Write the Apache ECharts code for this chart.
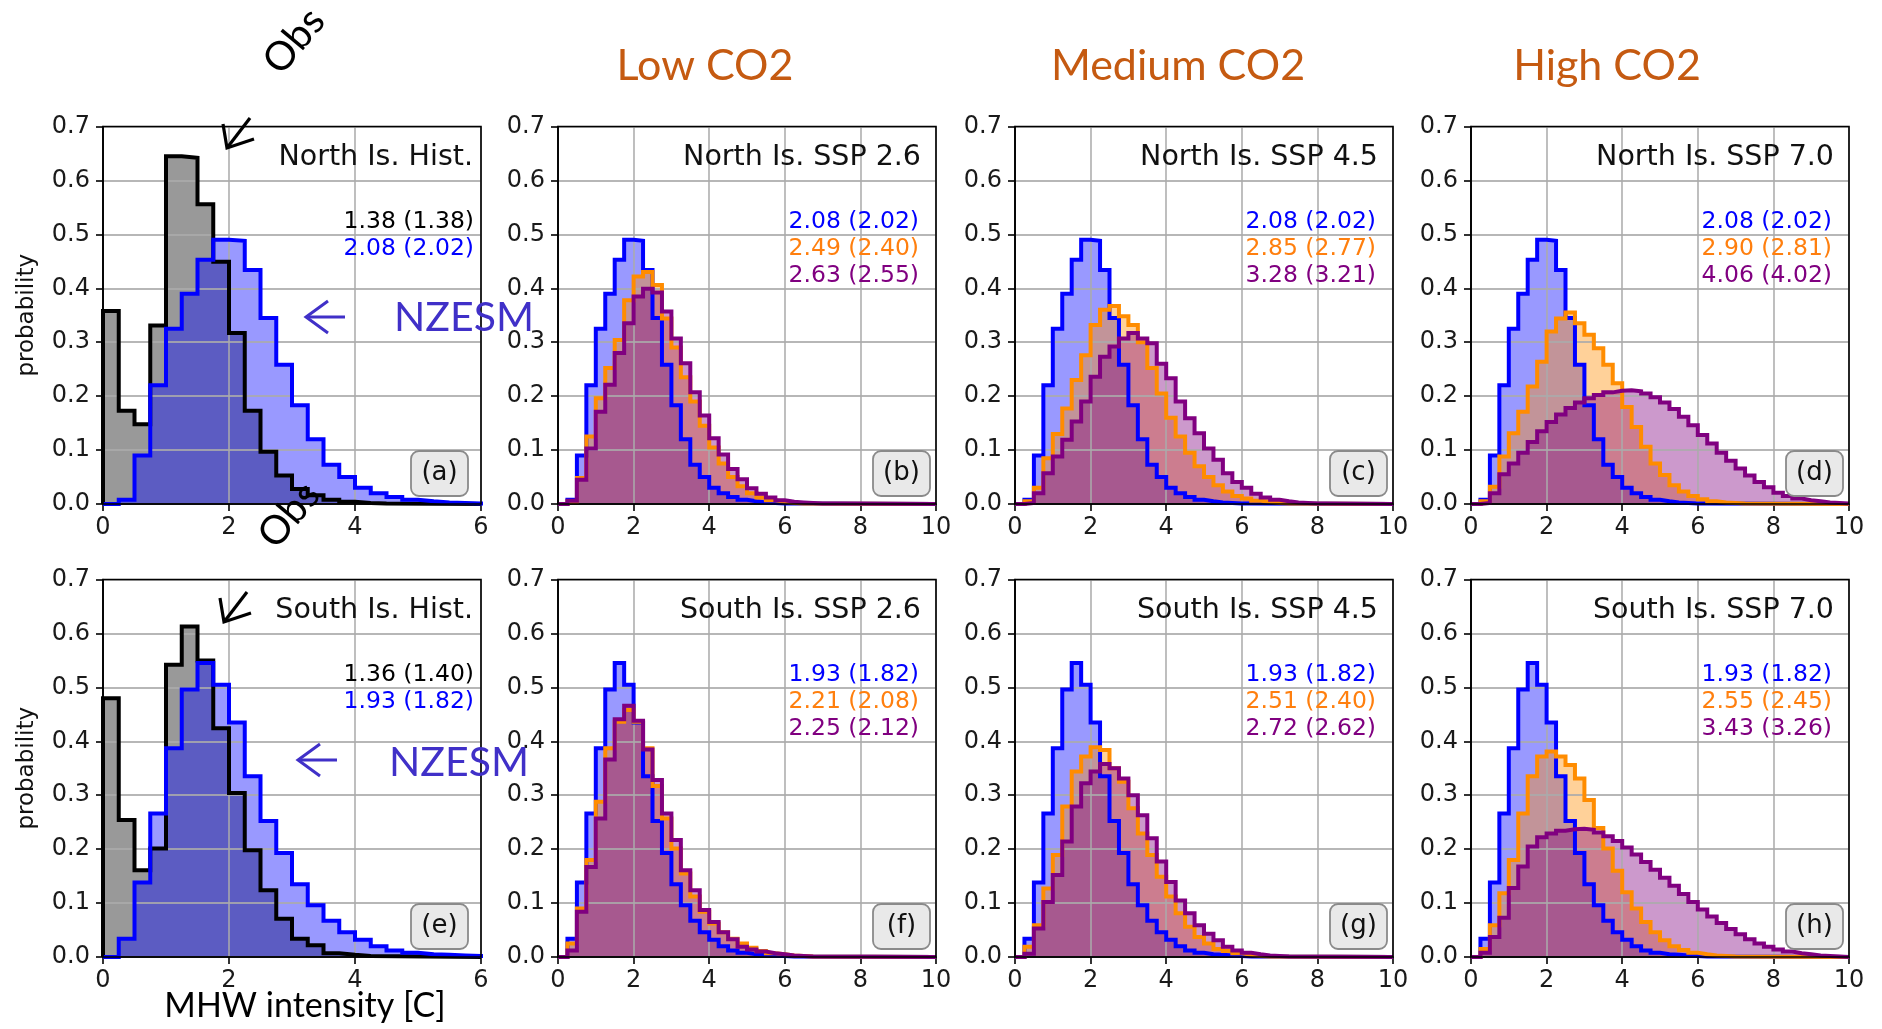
<!DOCTYPE html>
<html><head><meta charset="utf-8">
<script src="https://cdn.jsdelivr.net/npm/echarts@6/dist/echarts.min.js"></script>
<style>html,body{margin:0;padding:0;background:#fff}#chart{width:1882px;height:1029px}</style>
</head><body><div id="chart"></div>
<script>
// ---------------- DATA (probability per 0.25 C bin, starting at 0) ----------------
const binWidth = 0.25;
const northObs = [0.358, 0.173, 0.148, 0.331, 0.645, 0.642, 0.556, 0.449, 0.317, 0.173, 0.097, 0.053, 0.028, 0.016, 0.008, 0.004, 0.002, 0.001];
const northHist = [0.0, 0.008, 0.09, 0.22, 0.325, 0.39, 0.453, 0.49, 0.488, 0.434, 0.345, 0.258, 0.183, 0.12, 0.073, 0.05, 0.03, 0.02, 0.013, 0.008, 0.005, 0.003, 0.002, 0.001, 0.001];
const northSsp26Orange = [0.0, 0.004, 0.048, 0.125, 0.196, 0.252, 0.304, 0.378, 0.422, 0.43, 0.406, 0.344, 0.29, 0.235, 0.19, 0.145, 0.105, 0.075, 0.05, 0.033, 0.02, 0.012, 0.007, 0.004, 0.002, 0.001];
const northSsp26Purple = [0.0, 0.006, 0.045, 0.103, 0.171, 0.221, 0.28, 0.335, 0.385, 0.399, 0.392, 0.357, 0.307, 0.261, 0.207, 0.164, 0.122, 0.092, 0.065, 0.046, 0.029, 0.019, 0.012, 0.007, 0.004, 0.003, 0.002, 0.001, 0.001, 0.001];
const northSsp45Orange = [0.0, 0.005, 0.03, 0.085, 0.13, 0.177, 0.23, 0.276, 0.332, 0.36, 0.367, 0.348, 0.332, 0.3, 0.252, 0.205, 0.16, 0.125, 0.095, 0.07, 0.05, 0.035, 0.023, 0.015, 0.01, 0.006, 0.004, 0.002, 0.001];
const northSsp45Purple = [0.0, 0.002, 0.02, 0.057, 0.088, 0.119, 0.153, 0.19, 0.236, 0.273, 0.292, 0.307, 0.317, 0.307, 0.298, 0.26, 0.233, 0.19, 0.159, 0.131, 0.103, 0.082, 0.057, 0.041, 0.03, 0.019, 0.012, 0.008, 0.005, 0.003, 0.002, 0.001, 0.001];
const northSsp70Orange = [0.0, 0.005, 0.032, 0.088, 0.131, 0.171, 0.218, 0.264, 0.32, 0.344, 0.355, 0.335, 0.314, 0.289, 0.258, 0.224, 0.18, 0.143, 0.106, 0.075, 0.054, 0.035, 0.023, 0.015, 0.009, 0.005, 0.003, 0.002, 0.001];
const northSsp70Purple = [0.0, 0.002, 0.02, 0.055, 0.075, 0.095, 0.115, 0.135, 0.152, 0.166, 0.178, 0.188, 0.196, 0.202, 0.207, 0.21, 0.211, 0.209, 0.205, 0.198, 0.188, 0.176, 0.162, 0.146, 0.128, 0.112, 0.095, 0.08, 0.066, 0.053, 0.041, 0.031, 0.021, 0.015, 0.01, 0.007, 0.005, 0.003, 0.002, 0.001];
const southObs = [0.48, 0.254, 0.161, 0.201, 0.542, 0.613, 0.55, 0.424, 0.304, 0.198, 0.124, 0.071, 0.034, 0.022, 0.007, 0.004, 0.002];
const southHist = [0.0, 0.034, 0.138, 0.266, 0.387, 0.496, 0.545, 0.505, 0.435, 0.335, 0.252, 0.193, 0.135, 0.096, 0.067, 0.046, 0.032, 0.02, 0.012, 0.008, 0.005, 0.004, 0.003, 0.002, 0.001];
const southSsp26Orange = [0.0, 0.025, 0.09, 0.18, 0.288, 0.387, 0.436, 0.458, 0.436, 0.387, 0.317, 0.257, 0.201, 0.155, 0.112, 0.084, 0.062, 0.046, 0.034, 0.025, 0.017, 0.011, 0.007, 0.005, 0.003, 0.002, 0.001];
const southSsp26Purple = [0.0, 0.012, 0.084, 0.167, 0.257, 0.366, 0.441, 0.466, 0.438, 0.385, 0.328, 0.266, 0.217, 0.161, 0.124, 0.087, 0.065, 0.046, 0.033, 0.019, 0.014, 0.01, 0.007, 0.005, 0.003, 0.002, 0.001];
const southSsp45Orange = [0.0, 0.019, 0.059, 0.127, 0.189, 0.279, 0.344, 0.372, 0.389, 0.384, 0.35, 0.325, 0.276, 0.229, 0.189, 0.149, 0.112, 0.081, 0.056, 0.037, 0.025, 0.015, 0.011, 0.007, 0.004, 0.002, 0.001];
const southSsp45Purple = [0.0, 0.006, 0.053, 0.102, 0.152, 0.214, 0.279, 0.322, 0.344, 0.358, 0.35, 0.331, 0.3, 0.263, 0.22, 0.177, 0.139, 0.105, 0.081, 0.059, 0.043, 0.031, 0.019, 0.012, 0.008, 0.005, 0.003, 0.002, 0.001];
const southSsp70Orange = [0.0, 0.015, 0.059, 0.118, 0.18, 0.266, 0.335, 0.372, 0.381, 0.372, 0.356, 0.331, 0.291, 0.239, 0.201, 0.16, 0.12, 0.09, 0.065, 0.046, 0.031, 0.02, 0.013, 0.008, 0.005, 0.003, 0.002, 0.001];
const southSsp70Purple = [0.0, 0.008, 0.037, 0.073, 0.128, 0.168, 0.205, 0.222, 0.229, 0.234, 0.237, 0.238, 0.236, 0.231, 0.224, 0.215, 0.203, 0.19, 0.176, 0.162, 0.147, 0.132, 0.117, 0.102, 0.088, 0.075, 0.063, 0.052, 0.042, 0.033, 0.025, 0.019, 0.014, 0.01, 0.007, 0.005, 0.003, 0.002, 0.001];

const panelTitles = ['North Is. Hist.', 'North Is. SSP 2.6', 'North Is. SSP 4.5', 'North Is. SSP 7.0',
                     'South Is. Hist.', 'South Is. SSP 2.6', 'South Is. SSP 4.5', 'South Is. SSP 7.0'];
const panelLetters = ['(a)', '(b)', '(c)', '(d)', '(e)', '(f)', '(g)', '(h)'];
const panelStats = [
  ['1.38 (1.38)', '2.08 (2.02)'],
  ['2.08 (2.02)', '2.49 (2.40)', '2.63 (2.55)'],
  ['2.08 (2.02)', '2.85 (2.77)', '3.28 (3.21)'],
  ['2.08 (2.02)', '2.90 (2.81)', '4.06 (4.02)'],
  ['1.36 (1.40)', '1.93 (1.82)'],
  ['1.93 (1.82)', '2.21 (2.08)', '2.25 (2.12)'],
  ['1.93 (1.82)', '2.51 (2.40)', '2.72 (2.62)'],
  ['1.93 (1.82)', '2.55 (2.45)', '3.43 (3.26)']
];
const columnTitles = ['Low CO2', 'Medium CO2', 'High CO2'];
const xAxisMax = [6, 10, 10, 10];
const yAxisMax = 0.7;
const xLabel = 'MHW intensity [C]';
const yLabel = 'probability';

// ---------------- STYLE / LAYOUT ----------------
const STY = {
  obs:    { edge: '#000000', fill: 'rgba(128,128,128,0.8)', text: '#000000' },
  hist:   { edge: '#0000ff', fill: 'rgba(0,0,255,0.4)',     text: '#0000ff' },
  orange: { edge: '#ff8c00', fill: 'rgba(255,140,0,0.4)',   text: '#ff7f0e' },
  purple: { edge: '#800080', fill: 'rgba(128,0,128,0.4)',   text: '#800080' }
};
const panelSeries = [
  [['obs', northObs], ['hist', northHist]],
  [['hist', northHist], ['orange', northSsp26Orange], ['purple', northSsp26Purple]],
  [['hist', northHist], ['orange', northSsp45Orange], ['purple', northSsp45Purple]],
  [['hist', northHist], ['orange', northSsp70Orange], ['purple', northSsp70Purple]],
  [['obs', southObs], ['hist', southHist]],
  [['hist', southHist], ['orange', southSsp26Orange], ['purple', southSsp26Purple]],
  [['hist', southHist], ['orange', southSsp45Orange], ['purple', southSsp45Purple]],
  [['hist', southHist], ['orange', southSsp70Orange], ['purple', southSsp70Purple]]
];
const COL_LEFT = [103, 558, 1015, 1471];
const COL_W = 378;
const ROW_TOP = [126.5, 579.5];
const ROW_H = 377.5;
const ROW_SHIFT = ROW_TOP[1] - ROW_TOP[0];
const DJ = '"DejaVu Sans"';
const LATO = 'Lato';

function stepPoints(values, xMax) {
  const pts = [[0, 0]];
  values.forEach((v, k) => { pts.push([k * binWidth, v]); pts.push([(k + 1) * binWidth, v]); });
  const end = values.length * binWidth;
  pts.push([end, 0]);
  if (end < xMax) pts.push([xMax, 0]);
  return pts;
}

const grids = [], xAxes = [], yAxes = [], series = [], graphic = [];
for (let p = 0; p < 8; p++) {
  const row = Math.floor(p / 4), col = p % 4;
  const left = COL_LEFT[col], top = ROW_TOP[row];
  const xMax = xAxisMax[col];
  grids.push({ left: left, top: top, width: COL_W, height: ROW_H, show: true, borderColor: '#000', borderWidth: 1.6, backgroundColor: 'transparent', z: 5 });
  xAxes.push({
    type: 'value', gridIndex: p, min: 0, max: xMax, interval: 2, z: 2,
    axisLine: { show: true, onZero: false, lineStyle: { color: '#000', width: 1.6 } },
    axisTick: { show: true, length: 7, lineStyle: { color: '#000', width: 1.6 } },
    axisLabel: { fontFamily: DJ, fontSize: 24, color: '#1a1a1a', margin: 12 },
    splitLine: { show: true, lineStyle: { color: 'rgba(170,170,170,0.85)', width: 1.8 } }
  });
  yAxes.push({
    type: 'value', gridIndex: p, min: 0, max: yAxisMax, interval: 0.1, z: 2,
    axisLine: { show: true, onZero: false, lineStyle: { color: '#000', width: 1.6 } },
    axisTick: { show: true, length: 7, lineStyle: { color: '#000', width: 1.6 } },
    axisLabel: { fontFamily: DJ, fontSize: 24, color: '#1a1a1a', margin: 13, formatter: v => v.toFixed(1) },
    splitLine: { show: true, lineStyle: { color: 'rgba(170,170,170,0.85)', width: 1.8 } }
  });
  panelSeries[p].forEach(([kind, vals]) => {
    const pts = stepPoints(vals, xMax);
    series.push({ type: 'line', xAxisIndex: p, yAxisIndex: p, data: pts, symbol: 'none', showSymbol: false,
      silent: true, animation: false, z: 1,
      lineStyle: { width: 0, opacity: 0 }, areaStyle: { color: STY[kind].fill, opacity: 1 } });
  });
  panelSeries[p].forEach(([kind, vals]) => {
    const pts = stepPoints(vals, xMax);
    series.push({ type: 'line', xAxisIndex: p, yAxisIndex: p, data: pts, symbol: 'none', showSymbol: false,
      silent: true, animation: false, z: 3,
      lineStyle: { color: STY[kind].edge, width: 4, join: 'miter', cap: 'butt' } });
  });

  // panel title and stats (right aligned inside axes)
  const right = left + COL_W;
  const inset = col === 0 ? 8 : 15;
  graphic.push({ type: 'text', z: 20, style: { text: panelTitles[p], x: right - inset, y: 158 + row * ROW_SHIFT,
    font: '28.5px ' + DJ, fill: '#111', align: 'right', verticalAlign: 'middle', textAlign: 'right', textVerticalAlign: 'middle' } });
  panelStats[p].forEach((s, i) => {
    const kind = panelSeries[p][i][0];
    graphic.push({ type: 'text', z: 20, style: { text: s, x: right - (col === 0 ? 7 : 17), y: 222 + i * 26.7 + row * ROW_SHIFT,
      font: '23.5px ' + DJ, fill: STY[kind].text, align: 'right', verticalAlign: 'middle', textAlign: 'right', textVerticalAlign: 'middle' } });
  });
  // panel letter box
  const bxR = right - (col === 0 ? 13 : 6), bxB = top + ROW_H - 8;
  graphic.push({ type: 'rect', z: 20, shape: { x: bxR - 57, y: bxB - 45, width: 57, height: 45, r: 8 },
    style: { fill: '#e9e9e9', stroke: '#8a8a8a', lineWidth: 1.8 } });
  graphic.push({ type: 'text', z: 21, style: { text: panelLetters[p], x: bxR - 28.5, y: bxB - 22.5,
    font: '26px ' + DJ, fill: '#111', align: 'center', verticalAlign: 'middle', textAlign: 'center', textVerticalAlign: 'middle' } });
}

// y-axis labels
[0, 1].forEach(r => {
  graphic.push({ type: 'text', z: 20, x: 27, y: ROW_TOP[r] + ROW_H / 2, rotation: Math.PI / 2,
    style: { text: yLabel, font: '23px ' + DJ, fill: '#111', align: 'center', verticalAlign: 'middle', textAlign: 'center', textVerticalAlign: 'middle' } });
});
// x label
graphic.push({ type: 'text', z: 20, style: { text: xLabel, x: 305, y: 1006, font: '34px ' + LATO, fill: '#000',
  align: 'center', verticalAlign: 'middle', textAlign: 'center', textVerticalAlign: 'middle' } });
// column titles
const colTitleX = [705, 1178, 1607];
columnTitles.forEach((t, i) => {
  graphic.push({ type: 'text', z: 20, style: { text: t, x: colTitleX[i], y: 66, font: '43px ' + LATO, fill: '#c55a11',
    align: 'center', verticalAlign: 'middle', textAlign: 'center', textVerticalAlign: 'middle' } });
});
// annotations: Obs labels, arrows, NZESM
const obsRot = 50 * Math.PI / 180;
[[294, 41], [289, 515]].forEach(([x, y]) => {
  graphic.push({ type: 'text', z: 22, x: x, y: y, rotation: obsRot,
    style: { text: 'Obs', font: '40px ' + LATO, fill: '#000', align: 'center', verticalAlign: 'middle', textAlign: 'center', textVerticalAlign: 'middle' } });
});
[[0, 0], [-3, 474]].forEach(([dx, dy]) => {
  graphic.push({ type: 'polyline', z: 22, shape: { points: [[250 + dx, 118 + dy], [227 + dx, 148 + dy]] },
    style: { stroke: '#000', lineWidth: 3.2, fill: null } });
  graphic.push({ type: 'polyline', z: 22, shape: { points: [[223 + dx, 124 + dy], [227 + dx, 148 + dy], [254 + dx, 139 + dy]] },
    style: { stroke: '#000', lineWidth: 3.2, fill: null, lineJoin: 'miter' } });
});
[[325, 317], [317, 760]].forEach(([cx, cy]) => {
  graphic.push({ type: 'polyline', z: 22, shape: { points: [[cx + 20, cy], [cx - 19, cy]] },
    style: { stroke: '#4030c8', lineWidth: 3, fill: null } });
  graphic.push({ type: 'polyline', z: 22, shape: { points: [[cx + 3, cy - 16], [cx - 19, cy], [cx + 3, cy + 16]] },
    style: { stroke: '#4030c8', lineWidth: 3, fill: null } });
});
[[394, 318], [389, 763]].forEach(([x, y]) => {
  graphic.push({ type: 'text', z: 22, style: { text: 'NZESM', x: x, y: y, font: '41px ' + LATO, fill: '#4030c8',
    align: 'left', verticalAlign: 'middle', textAlign: 'left', textVerticalAlign: 'middle' } });
});

const chart = echarts.init(document.getElementById('chart'), null, { renderer: 'canvas' });
chart.setOption({
  animation: false,
  backgroundColor: '#ffffff',
  grid: grids, xAxis: xAxes, yAxis: yAxes, series: series, graphic: graphic
});
</script></body></html>
